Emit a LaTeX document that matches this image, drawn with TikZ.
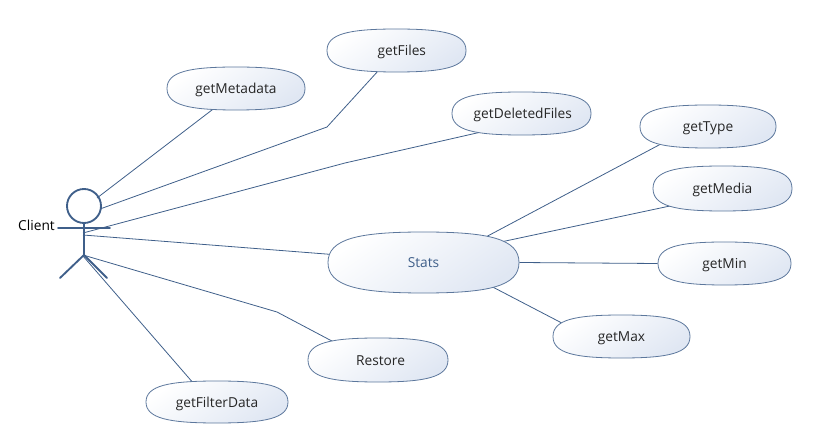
\documentclass[tikz,border=0pt]{standalone}
\usepackage{fontspec}
\setmainfont{Open Sans}
\usetikzlibrary{shapes.geometric,backgrounds}
\definecolor{umlline}{HTML}{3F5F8A}
\definecolor{umlfill}{HTML}{E0E7F3}
\tikzset{
  ucshape/.style={draw=umlline!85,line width=0.6pt,top color=white,bottom color=umlfill,shading angle=35},
  uclabel/.style={ellipse,inner sep=0pt,font=\fontsize{10.3pt}{12pt}\selectfont,text=black!85},
  link/.style={draw=umlline,line width=0.6pt},
  actorline/.style={draw=umlline,line width=1.4pt,line cap=round},
}
% #1 name, #2 cx, #3 cy, #4 w, #5 h, #6 label, #7 extra label style
\newcommand{\ucase}[7]{%
  \pgfmathsetmacro{\hw}{#4/2}\pgfmathsetmacro{\hh}{#5/2}%
  \pgfmathsetmacro{\kx}{0.68*\hw}\pgfmathsetmacro{\ky}{0.78*\hh}%
  \path[ucshape] ({#2-\hw},#3)
    .. controls ({#2-\hw},{#3-\ky}) and ({#2-\kx},{#3-\hh}) .. (#2,{#3-\hh})
    .. controls ({#2+\kx},{#3-\hh}) and ({#2+\hw},{#3-\ky}) .. ({#2+\hw},#3)
    .. controls ({#2+\hw},{#3+\ky}) and ({#2+\kx},{#3+\hh}) .. (#2,{#3+\hh})
    .. controls ({#2-\kx},{#3+\hh}) and ({#2-\hw},{#3+\ky}) .. ({#2-\hw},#3) -- cycle;
  \node[uclabel,minimum width=#4*0.75pt,minimum height=#5*0.75pt,#7] (#1) at (#2,#3) {\raisebox{0pt}[9pt][1pt]{#6}};%
}
\begin{document}
\begin{tikzpicture}[x=0.75pt,y=-0.75pt]
\useasboundingbox (0,0) rectangle (814,438);
% use cases
\ucase{getFiles}{396.5}{50.5}{139}{43}{\hspace*{8pt}getFiles}{}
\ucase{getMetadata}{236}{88.5}{138}{43}{getMetadata}{}
\ucase{getDeletedFiles}{521.5}{113.5}{139}{43}{\hspace*{2pt}getDeletedFiles}{}
\ucase{getType}{708}{126.5}{136}{43}{getType}{}
\ucase{getMedia}{722.5}{188.5}{139}{45}{getMedia}{}
\ucase{getMin}{724.5}{263.5}{133}{43}{getMin}{}
\ucase{getMax}{621.5}{336.5}{137}{43}{getMax}{}
\ucase{Stats}{423.5}{262.5}{191}{61}{Stats}{text=umlline}
\ucase{Restore}{378}{360}{140}{44}{\hspace*{3.8pt}Restore}{}
\ucase{getFilterData}{217}{402}{142}{42}{getFilterData}{}
% actor
\node[circle,draw=umlline,line width=1.4pt,minimum size=25.5pt,inner sep=0pt] (head) at (84,206) {};
\coordinate (hip) at (84,255);
\coordinate (armL) at (58,228);
\coordinate (armR) at (110,228);
\coordinate (footL) at (60,278);
\coordinate (footR) at (107,278);
\draw[actorline] (head.south) -- (hip);
\draw[actorline] (armL) -- (armR);
\draw[actorline] (footL) -- (hip) -- (footR);
\node[font=\fontsize{10.3pt}{12pt}\selectfont,text=black,inner sep=0pt] (client) at (36.5,225) {Client};
% connector origins and bends
\coordinate (a1) at (97,198);
\coordinate (a2) at (100,209);
\coordinate (a3) at (83,233);
\coordinate (a4) at (83,235);
\coordinate (a5) at (83,255);
\coordinate (a6) at (83,256);
\coordinate (b2) at (327,127);
\coordinate (b3) at (345,163);
\coordinate (b5) at (277,312);
\begin{scope}[on background layer]
  \draw[link] (a1) -- (getMetadata.222);
  \draw[link] (a2) -- (b2) -- (getFiles.228);
  \draw[link] (a3) -- (b3) -- (getDeletedFiles.205);
  \draw[link] (a4) -- (Stats.175);
  \draw[link] (a5) -- (b5) -- (Restore.158);
  \draw[link] (a6) -- (getFilterData.141);
  \draw[link] (Stats.22.6) -- (getType.200);
  \draw[link] (Stats.15.8) -- (getMedia.199.5);
  \draw[link] (Stats.east) -- (getMin.west);
  \draw[link] (Stats.-19) -- (getMax.168);
\end{scope}
\end{tikzpicture}
\end{document}
